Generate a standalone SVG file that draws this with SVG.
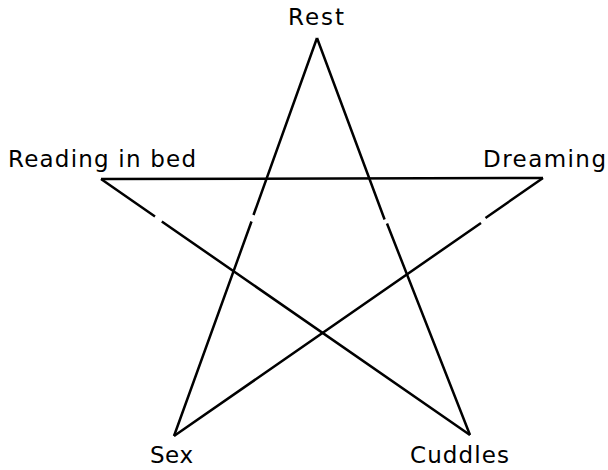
<svg xmlns="http://www.w3.org/2000/svg" width="608" height="470" viewBox="0 0 608 470">
<style>
.edge{fill:none;stroke:#000;stroke-width:2.5;stroke-linecap:butt;stroke-linejoin:miter}
.lbl{font-family:"DejaVu Sans",sans-serif;font-size:23px;fill:#000}
</style>
<rect width="608" height="470" fill="#fff"/>
<g id="connectors">
<path class="edge" d="M317,38 L253.5,215 M251.5,221.5 L174,436"/>
<path class="edge" d="M317,38 L384.6,219.5 M387,223.5 L470,435"/>
<path class="edge" d="M101,179 L543,178"/>
<path class="edge" d="M101,179 L155,216.5 M161.8,221.5 L470,435"/>
<path class="edge" d="M543,178 L485.5,218 M481,223 L174,436"/>
</g>
<g id="rest"><text class="lbl" x="288" y="25" textLength="56" lengthAdjust="spacing">Rest</text></g>
<g id="reading"><text class="lbl" x="8" y="167" textLength="188" lengthAdjust="spacing">Reading in bed</text></g>
<g id="dreaming"><text class="lbl" x="483" y="167" textLength="123" lengthAdjust="spacing">Dreaming</text></g>
<g id="sex"><text class="lbl" x="150" y="463" textLength="43" lengthAdjust="spacing">Sex</text></g>
<g id="cuddles"><text class="lbl" x="410" y="463" textLength="99" lengthAdjust="spacing">Cuddles</text></g>
</svg>
